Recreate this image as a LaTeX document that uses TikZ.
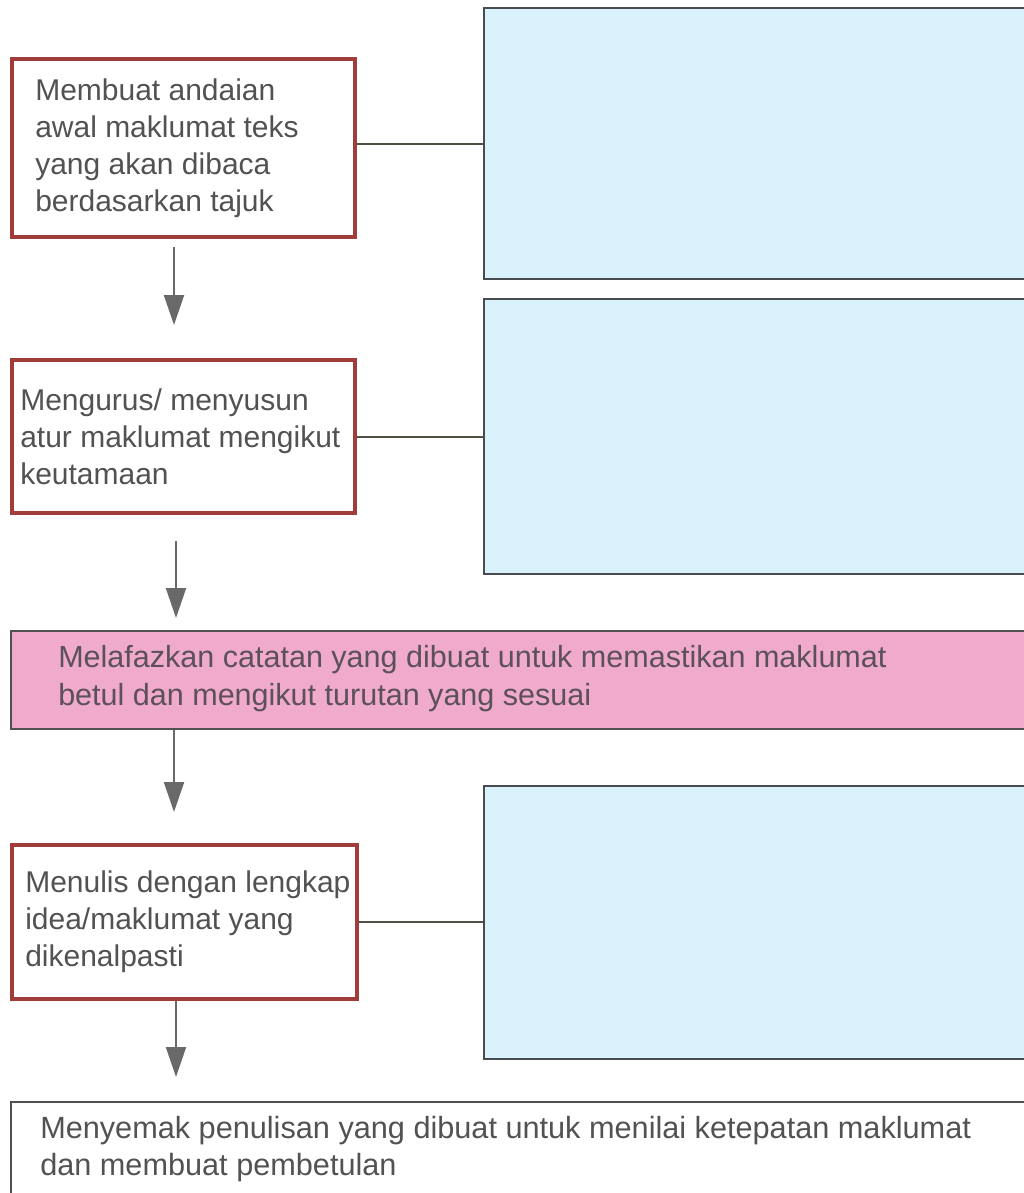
\documentclass[tikz,border=0pt]{standalone}
\usepackage{fontspec}
\setmainfont{Liberation Sans}
\usetikzlibrary{arrows.meta}
\definecolor{boxred}{RGB}{160,60,58}
\definecolor{bluefill}{RGB}{218,242,252}
\definecolor{bluedraw}{RGB}{72,76,80}
\definecolor{pinkfill}{RGB}{240,170,204}
\definecolor{darkline}{RGB}{80,80,80}
\definecolor{txtgray}{RGB}{82,82,82}
\definecolor{pinktxt}{RGB}{92,80,90}
\definecolor{linkcol}{RGB}{80,80,68}
\definecolor{arrcol}{RGB}{105,105,105}
\begin{document}
\begin{tikzpicture}[x=0.75pt,y=-0.75pt,
  redbox/.style={draw=boxred,line width=3pt,fill=white,rectangle,inner sep=0pt,anchor=north west},
  bluebox/.style={draw=bluedraw,line width=1.5pt,fill=bluefill,rectangle,inner sep=0pt,anchor=north west},
  pinkbox/.style={draw=darkline,line width=1.5pt,fill=pinkfill,rectangle,inner sep=0pt,anchor=north west},
  plainbox/.style={draw=darkline,line width=1.2pt,fill=white,rectangle,inner sep=0pt,anchor=north west},
  txt/.style={anchor=west,align=left,inner sep=0pt,text=txtgray,font=\fontsize{22.5pt}{27.75pt}\selectfont},
  link/.style={draw=linkcol,line width=1.5pt},
  arr/.style={draw=arrcol,line width=1.5pt,-{Triangle[width=15pt,length=22.5pt]}}]
\useasboundingbox (0,0) rectangle (1024,1193);
\clip (0,0) rectangle (1024,1193);
\fill[white] (0,0) rectangle (1024,1193);

% right-hand blue boxes
\node[bluebox,minimum width=413.25pt,minimum height=203.25pt] (blue1) at (483,7) {};
\node[bluebox,minimum width=413.25pt,minimum height=206.25pt] (blue2) at (483,298) {};
\node[bluebox,minimum width=413.25pt,minimum height=204.75pt] (blue3) at (483,785) {};

% left boxes
\node[redbox,minimum width=257.25pt,minimum height=133.5pt] (box1) at (10,57) {};
\node[txt] (t1) at ([xshift=18.75pt]box1.west) {Membuat andaian\\awal maklumat teks\\yang akan dibaca\\berdasarkan tajuk};

\node[redbox,minimum width=257.25pt,minimum height=114.75pt] (box2) at (10,358) {};
\node[txt] (t2) at ([xshift=7.5pt]box2.west) {Mengurus/ menyusun\\atur maklumat mengikut\\keutamaan};

\node[pinkbox,minimum width=772.5pt,minimum height=73.5pt] (box3) at (10,630) {};
\node[txt,text=pinktxt,font=\fontsize{22.9pt}{28.5pt}\selectfont] (t3) at ([xshift=36pt,yshift=1pt]box3.west) {Melafazkan catatan yang dibuat untuk memastikan maklumat\\betul dan mengikut turutan yang sesuai};

\node[redbox,minimum width=258.75pt,minimum height=115.5pt] (box4) at (10,843) {};
\node[txt] (t4) at ([xshift=11.25pt]box4.west) {Menulis dengan lengkap\\idea/maklumat yang\\dikenalpasti};

\node[plainbox,minimum width=772.5pt,minimum height=75pt] (box5) at (10,1101) {};
\node[txt,font=\fontsize{23pt}{27.75pt}\selectfont] (t5) at ([xshift=22.5pt,yshift=2.25pt]box5.west) {Menyemak penulisan yang dibuat untuk menilai ketepatan maklumat\\dan membuat pembetulan};

% connectors to blue boxes
\draw[link] (blue1.west -| box1.east) -- (blue1.west);
\draw[link] (box2.east) -- (box2.east -| blue2.west);
\draw[link] (box4.east) -- (box4.east -| blue3.west);

% flow arrows
\coordinate (ax1) at (174,0);
\coordinate (ax2) at (176,0);
\draw[arr,shorten <=6pt,shorten >=24.75pt] (box1.south -| ax1) -- (box2.north -| ax1);
\draw[arr,shorten <=19.5pt,shorten >=9pt] (box2.south -| ax2) -- (box3.north -| ax2);
\draw[arr,shorten >=23.25pt] (box3.south -| ax1) -- (box4.north -| ax1);
\draw[arr,shorten >=18pt] (box4.south -| ax2) -- (box5.north -| ax2);
\end{tikzpicture}
\end{document}
